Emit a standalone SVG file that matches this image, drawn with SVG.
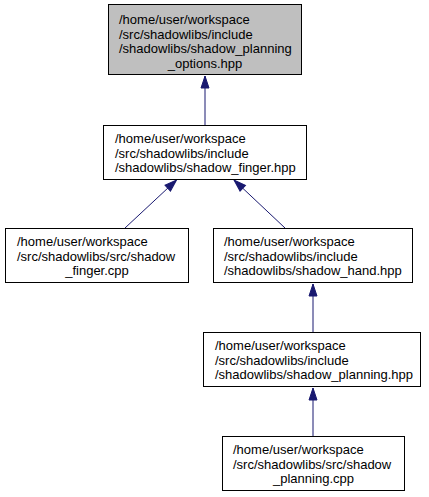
<svg xmlns="http://www.w3.org/2000/svg" width="429" height="497" viewBox="0 0 429 497">
<style>
.box{fill:#ffffff;stroke:#000000;stroke-width:1}
.cur{fill:#bfbfbf}
text{font-family:"Liberation Sans",Arial,sans-serif;font-size:13px;fill:#000000}
.c{text-anchor:middle}
.edge{fill:none;stroke:#191970;stroke-width:1}
</style>
<defs>
<marker id="ah" viewBox="-1 -1 14 10" refX="12" refY="4" markerWidth="14" markerHeight="10" orient="auto" markerUnits="userSpaceOnUse">
<path d="M0,0 L12,4 L0,8 z" fill="#191970" stroke="#191970"/>
</marker>
</defs>
<rect width="429" height="497" fill="#ffffff"/>
<g id="connectors">
<path class="edge" d="M205,125 L205,76" marker-end="url(#ah)"/>
<path class="edge" d="M125,228 L176.5,180" marker-end="url(#ah)"/>
<path class="edge" d="M285,228 L234,180" marker-end="url(#ah)"/>
<path class="edge" d="M313,332 L313,284" marker-end="url(#ah)"/>
<path class="edge" d="M313,436 L313,388" marker-end="url(#ah)"/>
</g>
<g id="node1">
<rect class="box cur" x="108.5" y="4.5" width="193" height="70"/>
<text x="119" y="24">/home/user/workspace</text>
<text x="119" y="38.5">/src/shadowlibs/include</text>
<text x="119" y="53">/shadowlibs/shadow_planning</text>
<text class="c" x="205" y="67.5">_options.hpp</text>
</g>
<g id="node2">
<rect class="box" x="103.5" y="125.5" width="203" height="54"/>
<text x="115" y="143">/home/user/workspace</text>
<text x="115" y="157.5">/src/shadowlibs/include</text>
<text x="115" y="172">/shadowlibs/shadow_finger.hpp</text>
</g>
<g id="node3">
<rect class="box" x="5.5" y="228.5" width="183" height="54"/>
<text x="17" y="246">/home/user/workspace</text>
<text x="17" y="260.5">/src/shadowlibs/src/shadow</text>
<text class="c" x="97" y="275">_finger.cpp</text>
</g>
<g id="node4">
<rect class="box" x="213.5" y="228.5" width="199" height="54"/>
<text x="224" y="246">/home/user/workspace</text>
<text x="224" y="260.5">/src/shadowlibs/include</text>
<text x="224" y="275">/shadowlibs/shadow_hand.hpp</text>
</g>
<g id="node5">
<rect class="box" x="203.5" y="332.5" width="217" height="54"/>
<text x="215" y="350">/home/user/workspace</text>
<text x="215" y="364.5">/src/shadowlibs/include</text>
<text x="215" y="379">/shadowlibs/shadow_planning.hpp</text>
</g>
<g id="node6">
<rect class="box" x="222.5" y="436.5" width="182" height="54"/>
<text x="233" y="454">/home/user/workspace</text>
<text x="233" y="468.5">/src/shadowlibs/src/shadow</text>
<text class="c" x="313.5" y="483">_planning.cpp</text>
</g>
</svg>
